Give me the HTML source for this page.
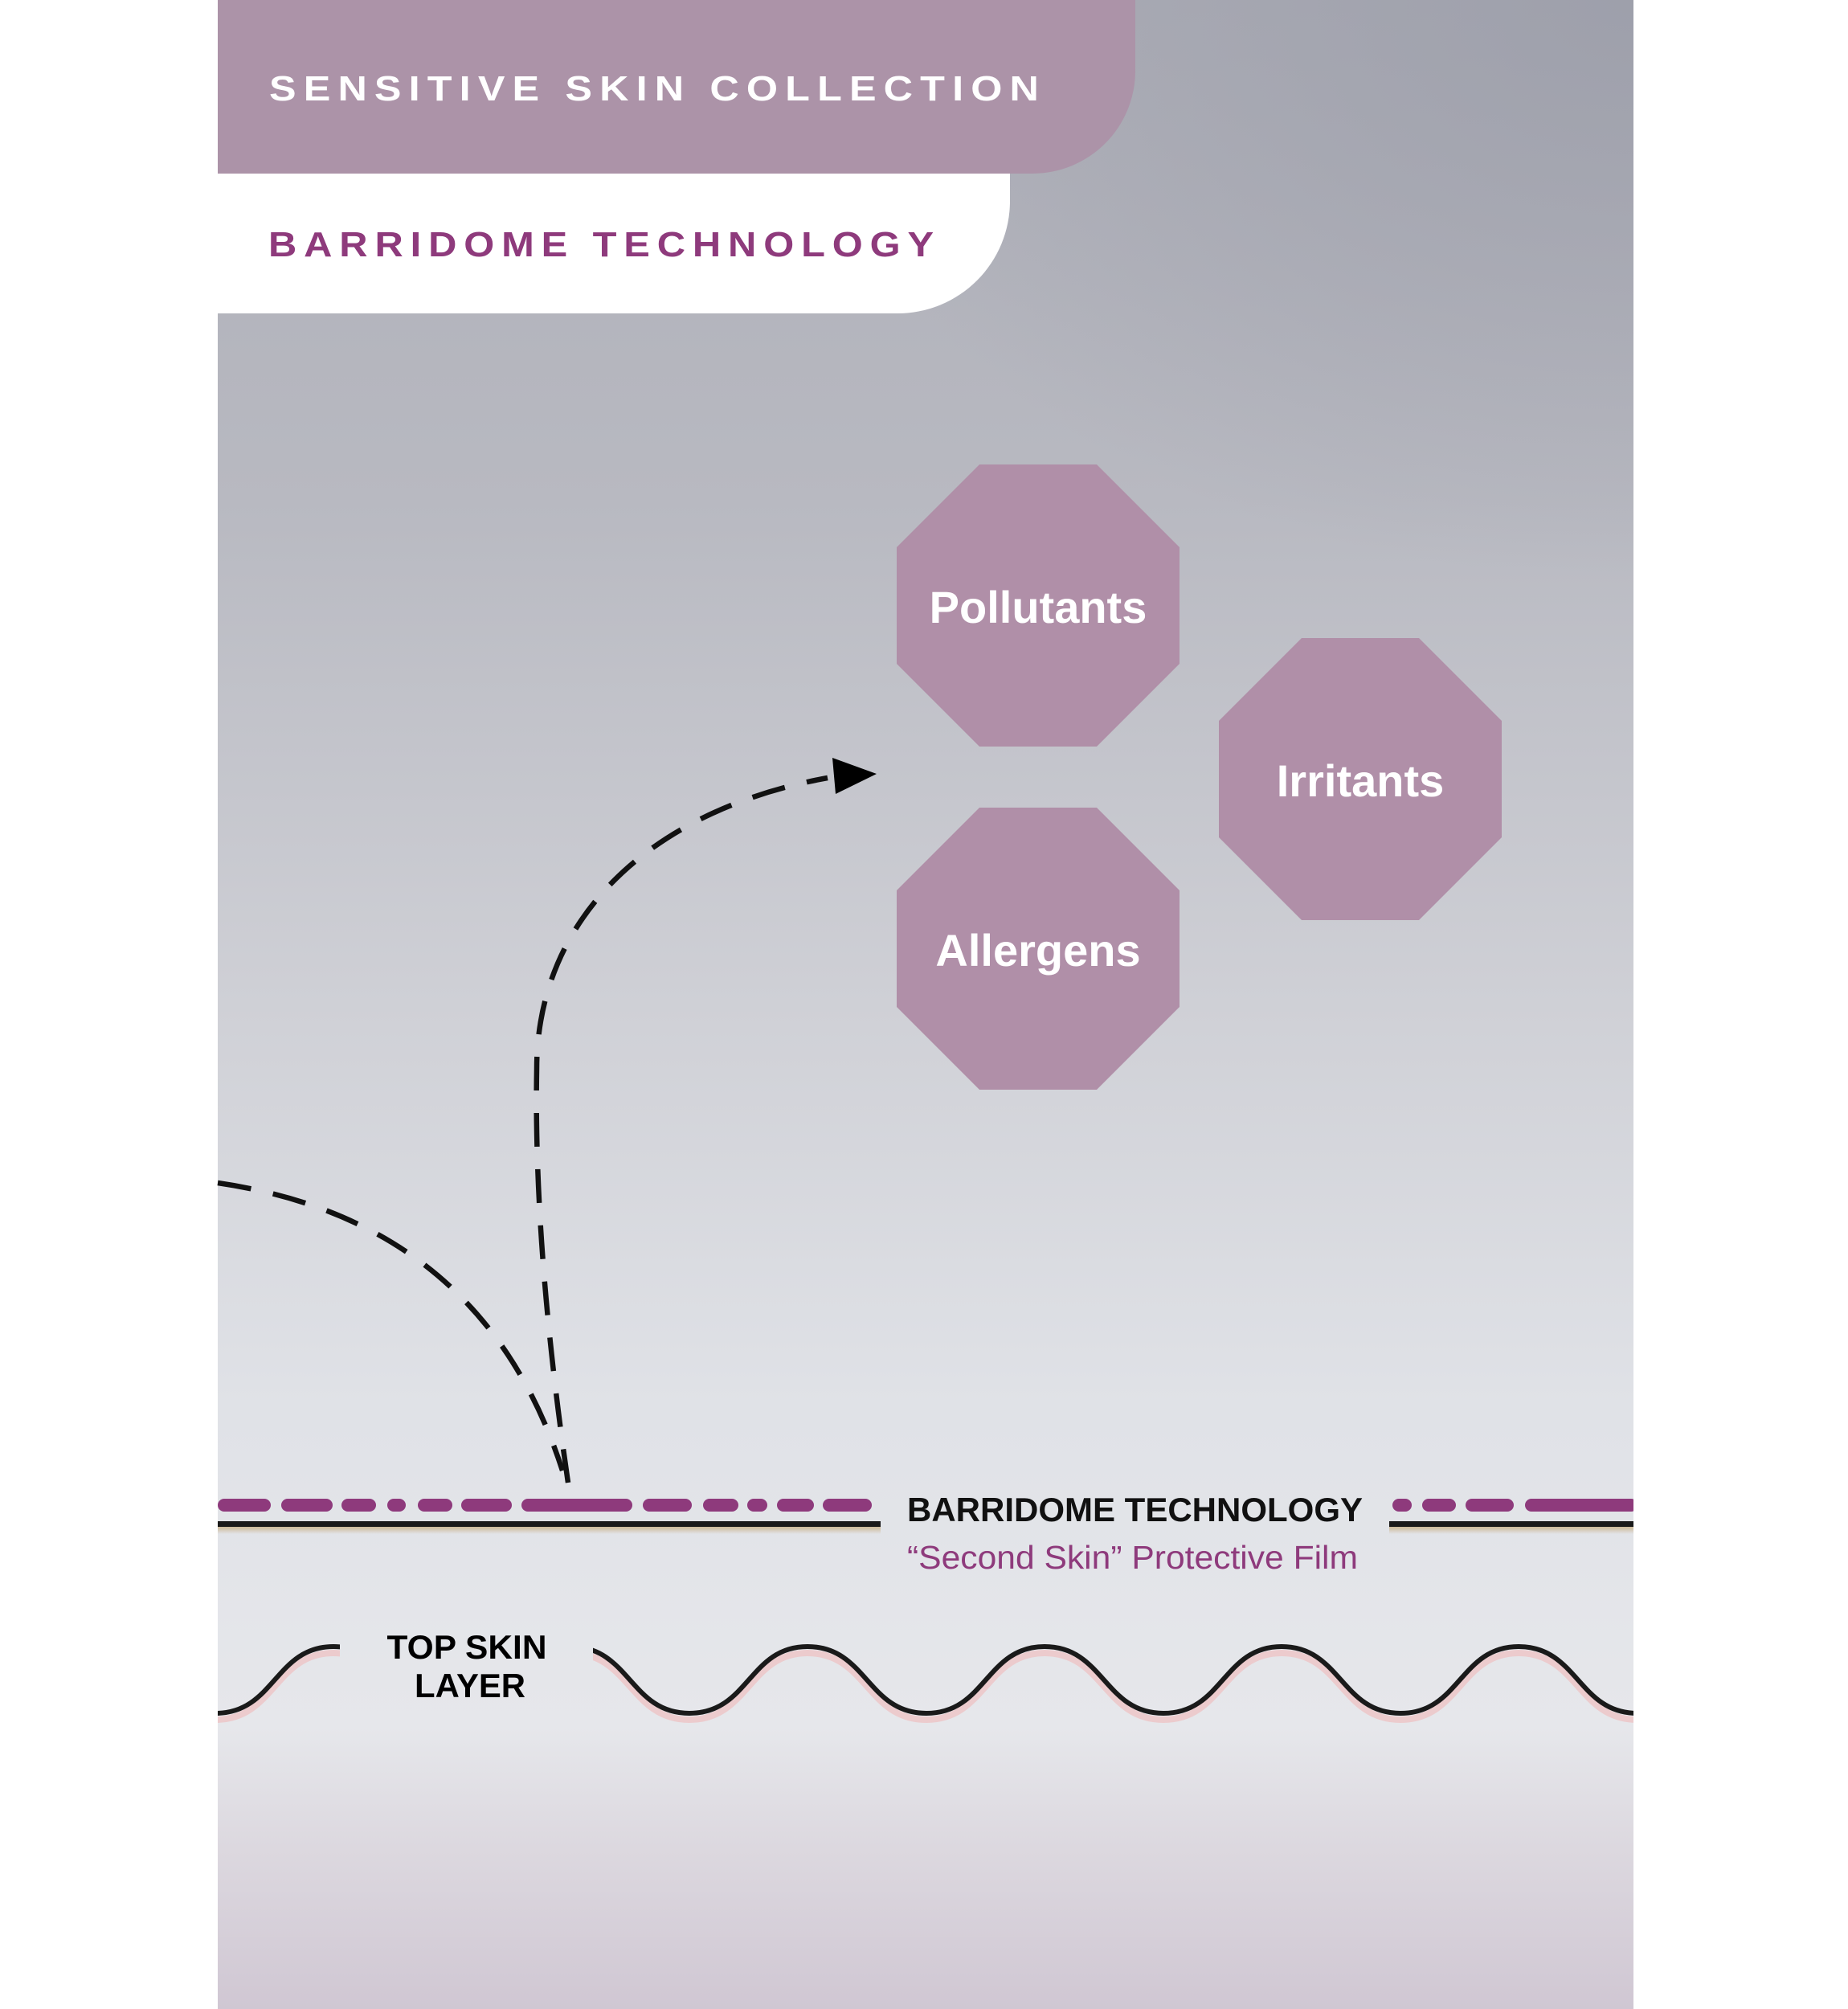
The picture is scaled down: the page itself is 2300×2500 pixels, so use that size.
<!DOCTYPE html>
<html><head><meta charset="utf-8"><style>
html,body{margin:0;padding:0;background:#fff;}
svg{display:block;}
</style></head><body>
<svg width="2300" height="2500" viewBox="0 0 2300 2500" xmlns="http://www.w3.org/2000/svg">
<defs>
<linearGradient id="bg" x1="0" y1="0" x2="0" y2="1">
<stop offset="0" stop-color="#adaeb7"/>
<stop offset="0.25" stop-color="#b8b9c1"/>
<stop offset="0.5" stop-color="#cfd0d6"/>
<stop offset="0.7" stop-color="#e0e2e7"/>
<stop offset="0.86" stop-color="#e6e7eb"/>
<stop offset="0.92" stop-color="#dcd8df"/>
<stop offset="1" stop-color="#d0c7d3"/>
</linearGradient>
<radialGradient id="tr" cx="1" cy="0" r="0.6">
<stop offset="0" stop-color="#9a9ca8" stop-opacity="1"/>
<stop offset="1" stop-color="#9a9ca8" stop-opacity="0"/>
</radialGradient>
<linearGradient id="tan" x1="0" y1="0" x2="0" y2="1">
<stop offset="0" stop-color="#c9b48e"/>
<stop offset="1" stop-color="#c9b48e" stop-opacity="0"/>
</linearGradient>
<clipPath id="wc"><path d="M271,1990 H423 V2200 H271 Z M738,1990 H2033 V2200 H738 Z"/></clipPath>
</defs>
<rect x="271" y="0" width="1762" height="2500" fill="url(#bg)"/>
<rect x="271" y="0" width="1762" height="1200" fill="url(#tr)" opacity="0.8"/>

<path d="M271,0 H1413 V88 A128,128 0 0 1 1285,216 H271 Z" fill="#ac93a8"/>
<path d="M271,216 H1257 V250 A140,140 0 0 1 1117,390 H271 Z" fill="#ffffff"/>
<text x="335" y="125" font-family="Liberation Sans, sans-serif" font-weight="bold" font-size="44" letter-spacing="8" fill="#ffffff" textLength="967" lengthAdjust="spacingAndGlyphs">SENSITIVE SKIN COLLECTION</text>
<text x="334" y="319" font-family="Liberation Sans, sans-serif" font-weight="bold" font-size="44" letter-spacing="8" fill="#8e3a7c" textLength="837" lengthAdjust="spacingAndGlyphs">BARRIDOME TECHNOLOGY</text>

<g fill="#b08fa8">
<polygon points="1219,578 1365,578 1468,681 1468,826 1365,929 1219,929 1116,826 1116,681"/>
<polygon points="1620,794 1766,794 1869,897 1869,1042 1766,1145 1620,1145 1517,1042 1517,897"/>
<polygon points="1219,1005 1365,1005 1468,1108 1468,1253 1365,1356 1219,1356 1116,1253 1116,1108"/>
</g>
<g font-family="Liberation Sans, sans-serif" font-weight="bold" font-size="56" fill="#ffffff" text-anchor="middle">
<text x="1292" y="775">Pollutants</text>
<text x="1693" y="991">Irritants</text>
<text x="1292" y="1202">Allergens</text>
</g>

<g fill="none" stroke="#111" stroke-width="6.5" stroke-dasharray="42 28">
<path d="M707,1845 Q664,1550 668,1330 C668,1150 800,1010 1030,968"/>
<path d="M271,1472 Q600,1520 700,1830"/>
</g>
<polygon points="1091,963 1036,943 1040,988" fill="#000"/>

<rect x="271" y="1899" width="825" height="10" fill="url(#tan)"/>
<rect x="1729" y="1899" width="304" height="10" fill="url(#tan)"/>
<rect x="271" y="1893" width="825" height="7" fill="#1a1a1a"/>
<rect x="1729" y="1893" width="304" height="7" fill="#1a1a1a"/>
<g fill="#8e3a7c">
<rect x="271" y="1865" width="66" height="16" rx="8"/>
<rect x="350" y="1865" width="64" height="16" rx="8"/>
<rect x="425" y="1865" width="43" height="16" rx="8"/>
<rect x="482" y="1865" width="23" height="16" rx="8"/>
<rect x="520" y="1865" width="43" height="16" rx="8"/>
<rect x="574" y="1865" width="63" height="16" rx="8"/>
<rect x="649" y="1865" width="138" height="16" rx="8"/>
<rect x="800" y="1865" width="61" height="16" rx="8"/>
<rect x="875" y="1865" width="44" height="16" rx="8"/>
<rect x="930" y="1865" width="25" height="16" rx="8"/>
<rect x="967" y="1865" width="46" height="16" rx="8"/>
<rect x="1024" y="1865" width="61" height="16" rx="8"/>
<rect x="1733" y="1865" width="24" height="16" rx="8"/>
<rect x="1770" y="1865" width="42" height="16" rx="8"/>
<rect x="1824" y="1865" width="60" height="16" rx="8"/>
<rect x="1898" y="1865" width="140" height="16" rx="8"/>
</g>
<text x="1129" y="1893" font-family="Liberation Sans, sans-serif" font-weight="bold" font-size="42" fill="#111" textLength="567" lengthAdjust="spacingAndGlyphs">BARRIDOME TECHNOLOGY</text>
<text x="1129" y="1952" font-family="Liberation Sans, sans-serif" font-size="41" fill="#8e3a7c" textLength="561" lengthAdjust="spacingAndGlyphs">“Second Skin” Protective Film</text>

<g clip-path="url(#wc)" fill="none">
<path id="wv" d="M268,2132 C342,2132 342,2049 415,2049 C489,2049 489,2132 563,2132 C637,2132 637,2049 710,2049 C784,2049 784,2132 858,2132 C932,2132 932,2049 1005,2049 C1079,2049 1079,2132 1153,2132 C1227,2132 1227,2049 1300,2049 C1374,2049 1374,2132 1448,2132 C1522,2132 1522,2049 1595,2049 C1669,2049 1669,2132 1743,2132 C1817,2132 1817,2049 1890,2049 C1964,2049 1964,2132 2038,2132" stroke="#eccbcd" stroke-width="8" transform="translate(0,8)"/>
</g>
<path d="M268,2132 C342,2132 342,2049 415,2049 C489,2049 489,2132 563,2132 C637,2132 637,2049 710,2049 C784,2049 784,2132 858,2132 C932,2132 932,2049 1005,2049 C1079,2049 1079,2132 1153,2132 C1227,2132 1227,2049 1300,2049 C1374,2049 1374,2132 1448,2132 C1522,2132 1522,2049 1595,2049 C1669,2049 1669,2132 1743,2132 C1817,2132 1817,2049 1890,2049 C1964,2049 1964,2132 2038,2132" stroke="#1a1a1a" stroke-width="6" fill="none" clip-path="url(#wc)"/>
<g font-family="Liberation Sans, sans-serif" font-weight="bold" font-size="42" fill="#000" text-anchor="middle">
<text x="581" y="2064" textLength="199" lengthAdjust="spacingAndGlyphs">TOP SKIN</text>
<text x="585" y="2112" textLength="138" lengthAdjust="spacingAndGlyphs">LAYER</text>
</g>
<rect x="2033" y="0" width="267" height="2500" fill="#fff"/>
</svg>
</body></html>
